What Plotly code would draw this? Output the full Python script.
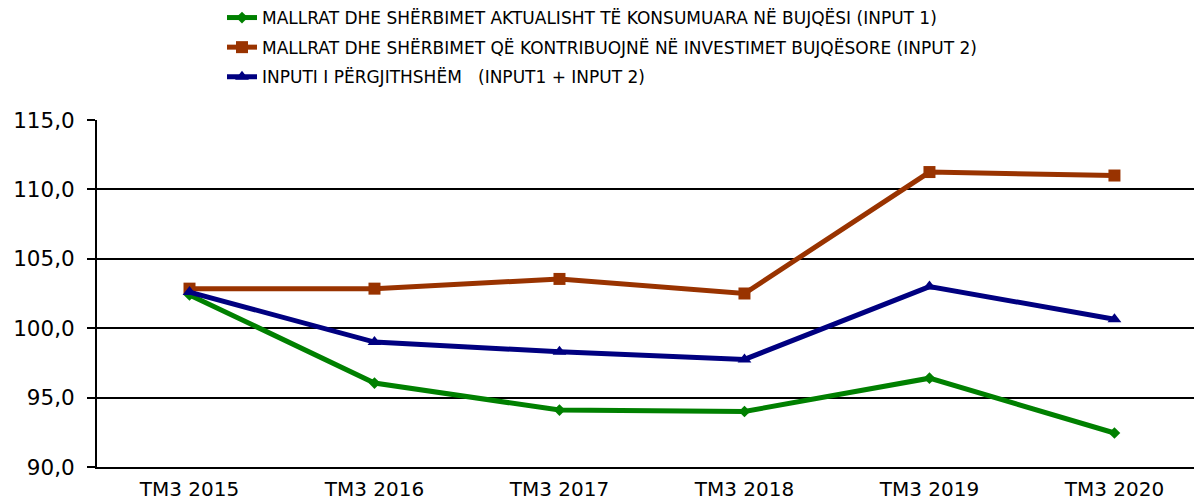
import plotly.graph_objects as go

categories = ["TM3 2015", "TM3 2016", "TM3 2017", "TM3 2018", "TM3 2019", "TM3 2020"]
input1 = [102.4, 96.05, 94.1, 94.0, 96.4, 92.45]
input2 = [102.85, 102.85, 103.55, 102.5, 111.25, 111.0]
total = [102.6, 99.0, 98.3, 97.75, 103.0, 100.65]

names = [
    "MALLRAT DHE SHËRBIMET AKTUALISHT TË KONSUMUARA NË BUJQËSI (INPUT 1)",
    "MALLRAT DHE SHËRBIMET QË KONTRIBUOJNË NË INVESTIMET BUJQËSORE (INPUT 2)",
    "INPUTI I PËRGJITHSHËM   (INPUT1 + INPUT 2)",
]
colors = ["#008000", "#993300", "#000080"]
symbols = ["diamond", "square", "triangle-up"]
sizes = [9, 12, 12]
series = [input1, input2, total]

fig = go.Figure()
for i, (vals, nm, c, s, sz) in enumerate(zip(series, names, colors, symbols, sizes)):
    fig.add_trace(go.Scatter(
        x=list(range(len(categories))), y=vals, name=nm, mode="lines+markers",
        line=dict(color=c, width=5), marker=dict(symbol=s, size=sz, color=c),
        legendgroup=f"g{i}",
    ))

fig.update_layout(
    width=1194, height=501,
    margin=dict(l=97, r=0, t=120, b=34, autoexpand=False),
    paper_bgcolor="white", plot_bgcolor="white",
    separators=", ",
    font=dict(family="DejaVu Sans, Arial, sans-serif", color="black"),
    showlegend=True,
    legend=dict(
        xref="container", yref="container", x=222/1194, y=1 + 3/501,
        xanchor="left", yanchor="top", orientation="v",
        font=dict(size=17, color="black"), traceorder="grouped", tracegroupgap=4.5,
        bgcolor="rgba(0,0,0,0)",
    ),
    xaxis=dict(
        tickmode="array", tickvals=list(range(len(categories))), ticktext=categories,
        range=[-0.5, 5.43], showgrid=False, zeroline=False,
        showline=True, linecolor="black", linewidth=2,
        tickfont=dict(size=20), tickangle=0,
        ticks="", ticklabelstandoff=3,
    ),
    yaxis=dict(
        range=[90, 115], tickvals=[90, 95, 100, 105, 110, 115], tickformat=".1f",
        showgrid=True, gridcolor="black", gridwidth=2, zeroline=False,
        showline=True, linecolor="black", linewidth=2,
        ticks="outside", ticklen=8, tickwidth=2, tickcolor="black",
        tickfont=dict(size=21.5), ticklabelstandoff=8,
    ),
)

fig.write_html("out.html", config={"displayModeBar": False},
               post_script="document.body.style.margin='0';")
